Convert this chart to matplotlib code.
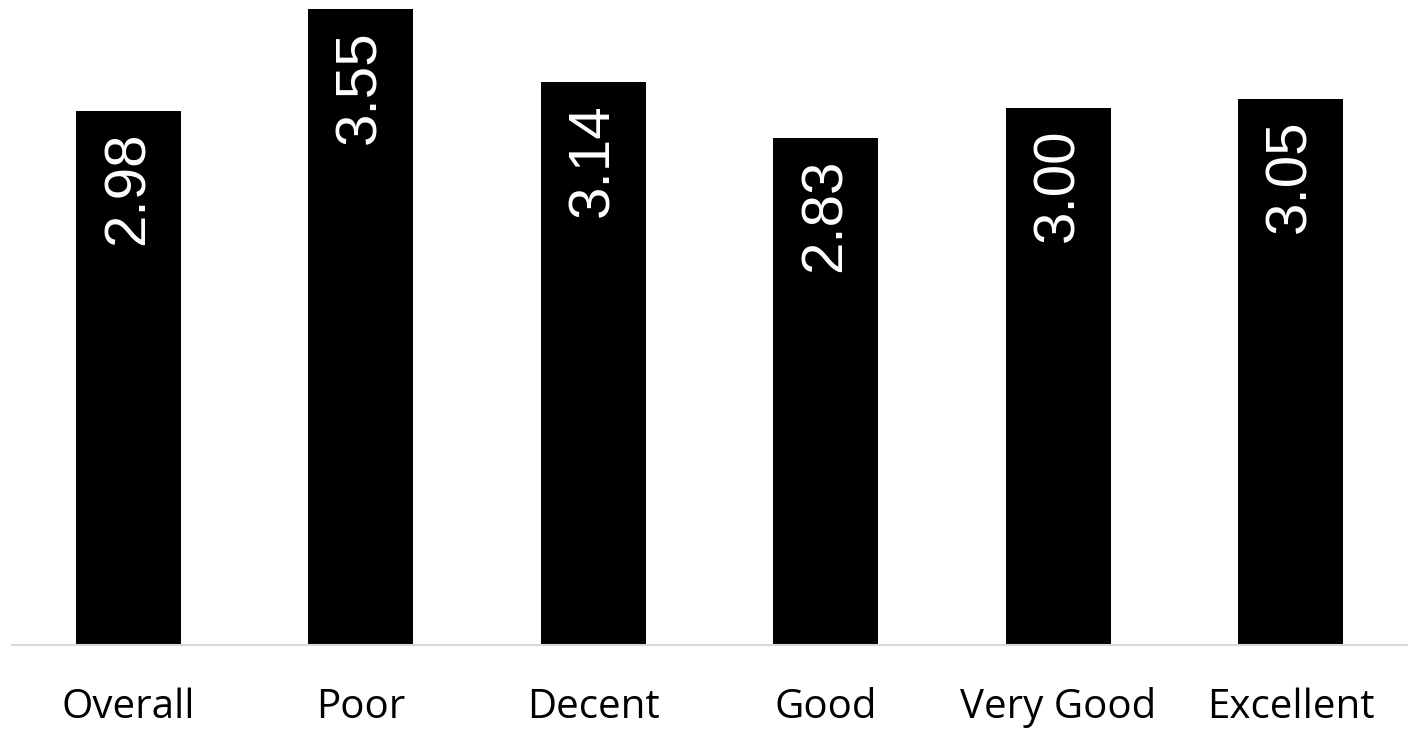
import matplotlib.pyplot as plt

categories = ["Overall", "Poor", "Decent", "Good", "Very Good", "Excellent"]
values = [2.98, 3.55, 3.14, 2.83, 3.00, 3.05]
value_labels = ["2.98", "3.55", "3.14", "2.83", "3.00", "3.05"]


def main():
    fig = plt.figure(figsize=(14.17, 7.40), dpi=100)
    ax = fig.add_axes([12 / 1417, 95.5 / 740, 1395 / 1417, 644.4 / 740])

    x = range(len(categories))
    bars = ax.bar(x, values, width=0.45, color="black", zorder=2)

    # value labels inside bars, rotated, near the top
    for bar, lab in zip(bars, value_labels):
        ax.annotate(lab, (bar.get_x() + bar.get_width() / 2, bar.get_height()),
                    xytext=(0, -15), textcoords="offset points",
                    rotation=90, ha="center", va="top", color="white",
                    fontsize=42, family=["Liberation Sans", "DejaVu Sans"])

    ax.set_xlim(-0.5, 5.5)
    ax.set_ylim(0, 3.6)
    ax.set_yticks([])
    ax.set_xticks(list(x))
    ax.set_xticklabels(categories, fontsize=29, family=["Open Sans", "DejaVu Sans"],
                       va="baseline")
    ax.tick_params(axis="x", length=0, pad=53)

    for s in ["top", "left", "right"]:
        ax.spines[s].set_visible(False)
    ax.spines["bottom"].set_color("#d9d9d9")
    ax.spines["bottom"].set_linewidth(1.5)

    plt.savefig("out.png", dpi=100)
    plt.close()


if __name__ == "__main__":
    main()
